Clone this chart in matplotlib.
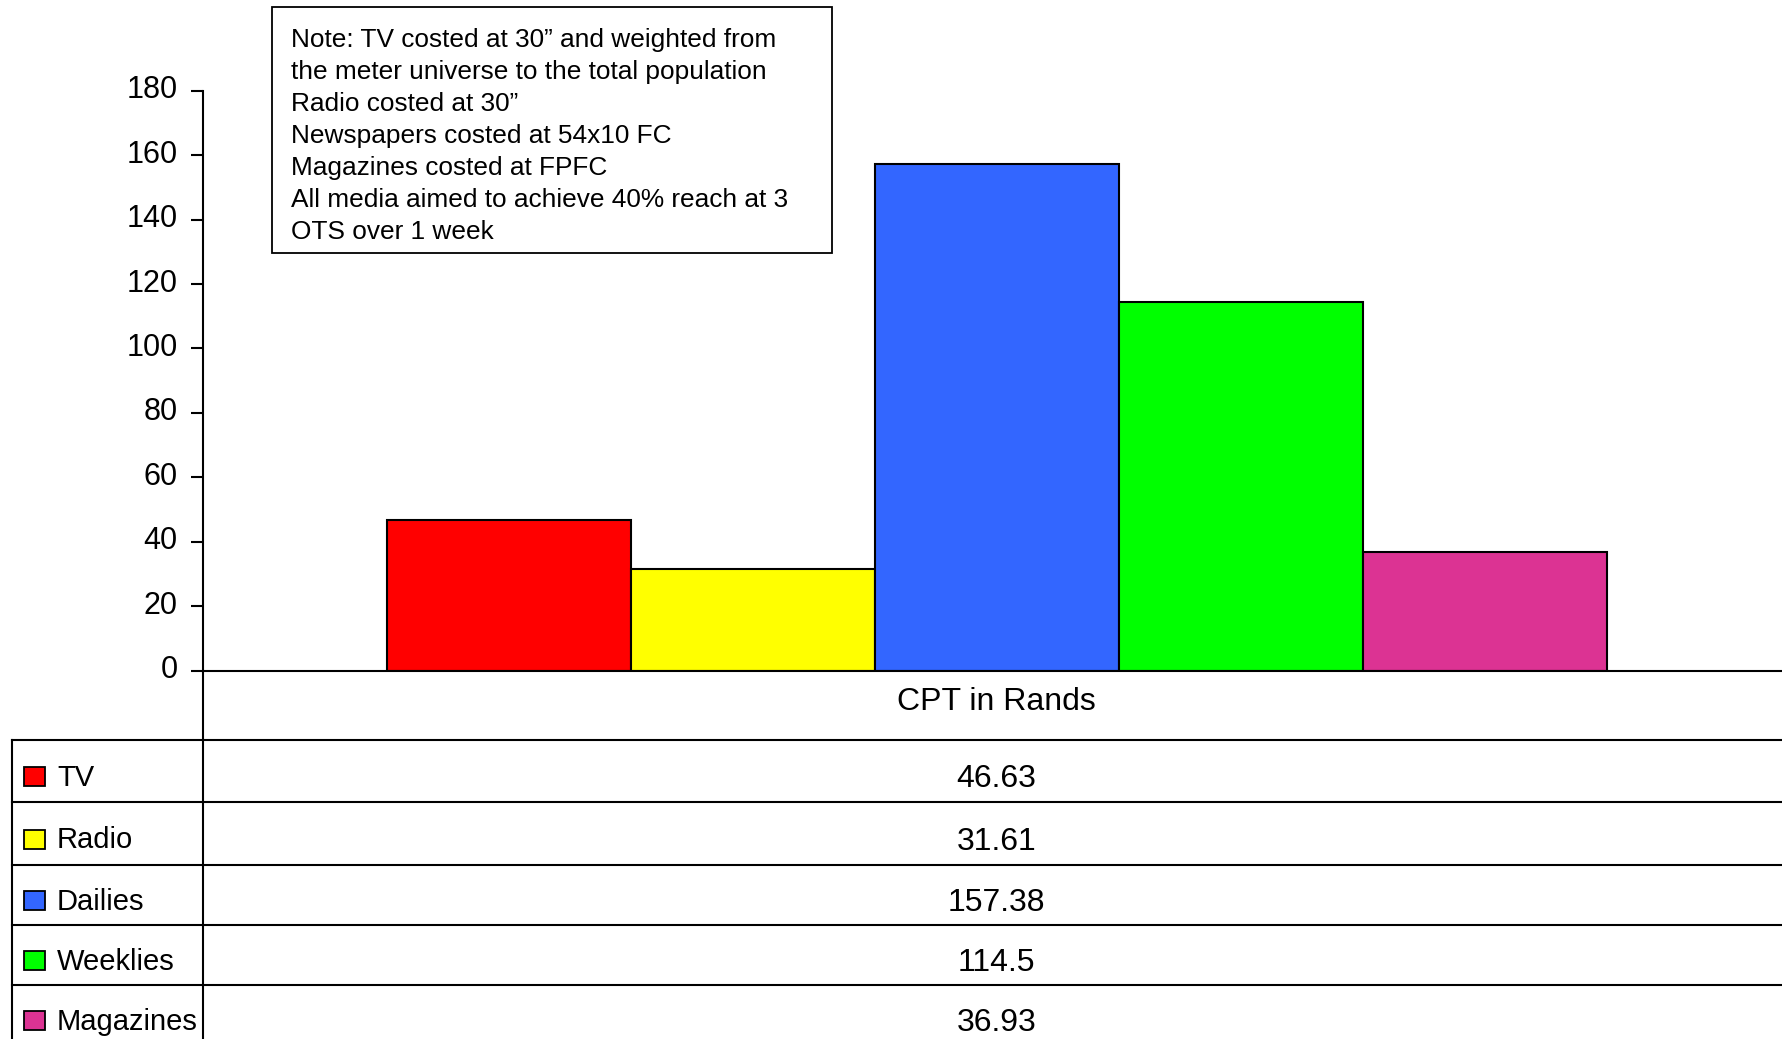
#!/usr/bin/env python3

import matplotlib
matplotlib.use('Agg')
import matplotlib.pyplot as plt
from matplotlib.patches import Rectangle
from matplotlib.transforms import ScaledTranslation
import numpy as np

# data
media = ['TV', 'Radio', 'Dailies', 'Weeklies', 'Magazines']
cpt = [46.63, 31.61, 157.38, 114.5, 36.93]
colors = ['#FF0000', '#FFFF00', '#3366FF', '#00FF00', '#DC3393']
category = 'CPT in Rands'
note = ('Note: TV costed at 30\u201d and weighted from\n'
        'the meter universe to the total population\n'
        'Radio costed at 30\u201d\n'
        'Newspapers costed at 54x10 FC\n'
        'Magazines costed at FPFC\n'
        'All media aimed to achieve 40% reach at 3\n'
        'OTS over 1 week')

plt.rcParams['font.family'] = ['Liberation Sans', 'DejaVu Sans']

W, H = 1782, 1039
fig = plt.figure(figsize=(W / 100, H / 100), dpi=100)

# overlay in pixel coords for the data table and note
ov = fig.add_axes([0, 0, 1, 1])
ov.set_xlim(0, W)
ov.set_ylim(H, 0)
ov.axis('off')

# chart area
x0, y0, y180, xr = 203.3, 670.7, 90.7, 1790
ax = fig.add_axes([x0 / W, (H - y0) / H, (xr - x0) / W, (y0 - y180) / H])
ax.set_xlim(-0.5, 0.5)
ax.set_ylim(0, 180)
ax.set_yticks(np.arange(0, 181, 20))
ax.set_xticks([])
for s in ['top', 'right']:
    ax.spines[s].set_visible(False)
ax.spines['left'].set_linewidth(1.5)
ax.spines['bottom'].set_linewidth(1.5)
ax.tick_params(axis='y', length=8.6, width=1.5, pad=10, labelsize=22)
ax.patch.set_alpha(0)
up = ScaledTranslation(0, 4 / 100, fig.dpi_scale_trans)
for lab in ax.get_yticklabels():
    lab.set_transform(lab.get_transform() + up)

bw = 0.1538
pos = (np.arange(len(media)) - 2) * bw
ax.bar(pos, cpt, width=bw, color=colors, edgecolor='black', linewidth=1.5)

# note box
ov.add_patch(Rectangle((272.3, 7.3), 560, 246, fill=False, edgecolor='black', linewidth=1.3))
ov.text(291, 28.5, note, fontsize=18.9, va='top', ha='left', linespacing=1.415)

# data table
lw = 1.5
rows = [740, 802, 865, 925, 985, 1045]
ov.plot([x0, x0], [y0, H], color='black', lw=lw)
ov.plot([12, 12], [rows[0], H], color='black', lw=lw)
for r in rows:
    ov.plot([12, W], [r, r], color='black', lw=lw)
cx = (x0 + xr) / 2
ov.text(cx, 702, category, fontsize=23, ha='center', va='center')
for i, (m, v, c) in enumerate(zip(media, cpt, colors)):
    yc = (rows[i] + rows[i + 1]) / 2 + 6
    ov.add_patch(Rectangle((23.5, yc - 10), 21, 19, facecolor=c, edgecolor='black', linewidth=1.3))
    ov.text(57, yc + 1, m, fontsize=21, ha='left', va='center')
    ov.text(cx, yc + 2, f'{v:g}', fontsize=23, ha='center', va='center')

plt.savefig('out.png', dpi=100)
